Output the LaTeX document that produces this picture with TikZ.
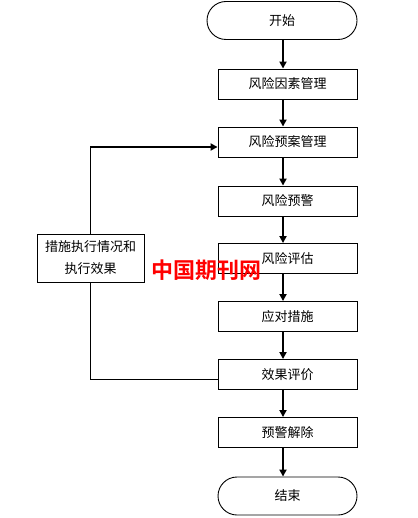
\documentclass[tikz,border=0pt]{standalone}
\usepackage{fontspec}
\setmainfont{Noto Sans CJK SC}
\newfontfamily\wmfont{Noto Sans CJK SC Bold}
\usetikzlibrary{arrows.meta}
\begin{document}
\begin{tikzpicture}[x=1pt,y=-1pt,
  procbox/.style={draw,line width=0.9pt,minimum width=139pt,minimum height=30pt,inner sep=0pt,font=\fontsize{13pt}{15pt}\selectfont},
  termbox/.style={draw,line width=0.9pt,rounded corners=19pt,minimum height=38pt,inner sep=0pt,font=\fontsize{13pt}{15pt}\selectfont},
  flow/.style={line width=2pt,-{Triangle[length=7pt,width=7pt]}},
  fbline/.style={line width=0.9pt}]
\useasboundingbox (0,0) rectangle (417,518);
\coordinate (ax) at (283,0);
\node[termbox,minimum width=150pt] (start) at (282,20.5) {开始};
\node[procbox] (b1) at (287.5,84) {风险因素管理};
\node[procbox] (b2) at (287.5,142) {风险预案管理};
\node[procbox] (b3) at (287.5,201) {风险预警};
\node[procbox] (b4) at (287.5,258.5) {风险评估};
\node[procbox] (b5) at (287.5,316.5) {应对措施};
\node[procbox] (b6) at (287.5,374.5) {效果评价};
\node[procbox] (b7) at (287.5,432.5) {预警解除};
\node[termbox,minimum width=139pt] (end) at (287.5,496) {结束};
\node[draw,line width=0.9pt,minimum width=107pt,minimum height=48pt,inner sep=0pt,align=center,font=\fontsize{13pt}{22pt}\selectfont] (lb) at (90.5,258) {措施执行情况和\\执行效果};
\draw[flow] (start.south -| ax) -- (b1.north -| ax);
\draw[flow] (b1.south -| ax) -- (b2.north -| ax);
\draw[flow] (b2.south -| ax) -- (b3.north -| ax);
\draw[flow] (b3.south -| ax) -- (b4.north -| ax);
\draw[flow] (b4.south -| ax) -- (b5.north -| ax);
\draw[flow] (b5.south -| ax) -- (b6.north -| ax);
\draw[flow] (b6.south -| ax) -- (b7.north -| ax);
\draw[flow] (b7.south -| ax) -- (end.north -| ax);
\coordinate (fb) at (90,147);
\draw[fbline] ([yshift=-4.5pt]b6.west) -| (lb.south -| fb);
\draw[fbline] (lb.north -| fb) -- (fb);
\draw[flow] (fb) -- (b2.west |- fb);
\node[text=red,font=\wmfont\fontsize{22pt}{24pt}\selectfont,inner sep=0pt] (wm) at (206,270) {中国期刊网};
\end{tikzpicture}
\end{document}
